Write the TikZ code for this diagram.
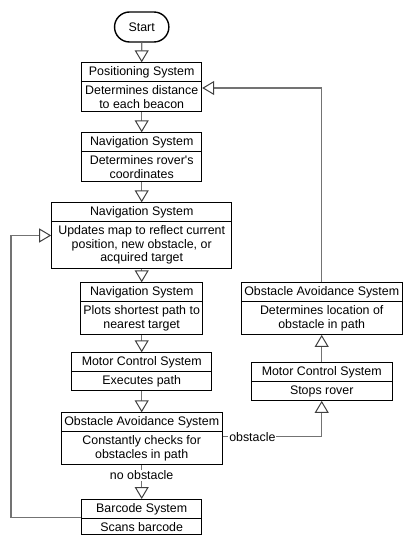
\documentclass[tikz,border=0pt]{standalone}
\usepackage{fontspec}
\setmainfont{Liberation Sans}
\usetikzlibrary{arrows.meta, shapes.multipart, shapes.misc}

\begin{document}
\begin{tikzpicture}[
    x=1pt, y=-1pt,
    font=\fontsize{12.4}{13.7}\selectfont,
    term/.style={draw,line width=1.4pt,rounded rectangle,minimum width=61pt,minimum height=30pt},
    sys/.style={draw,line width=1pt,rectangle split,rectangle split parts=2,align=center,anchor=north,inner xsep=3pt,inner ysep=3.2pt},
    flow/.style={draw=black!55,line width=1.4pt,-{Triangle[length=12pt,width=14pt,color=black!75,fill=white,line width=1pt]}},
    lbl/.style={fill=white,inner sep=1pt}]
  \useasboundingbox (0,0) rectangle (412,548);
  \node[term] (start) at (141.7,27) {Start};
  \node[sys,minimum width=120pt] (pos) at (141.7,62.3) {Positioning System \nodepart{two} Determines distance\\to each beacon};
  \node[sys,minimum width=120pt] (nav1) at (141.7,132.3) {Navigation System \nodepart{two} Determines rover\textquotesingle s\\coordinates};
  \node[sys,minimum width=180pt] (nav2) at (141.7,202.3) {Navigation System \nodepart{two} Updates map to reflect current\\position, new obstacle, or\\acquired target};
  \node[sys,minimum width=120pt] (plot) at (141.7,282.3) {Navigation System \nodepart{two} Plots shortest path to\\nearest target};
  \node[sys,minimum width=140pt] (motor) at (141.7,352.3) {Motor Control System \nodepart{two} Executes path};
  \node[sys,minimum width=160pt] (check) at (141.7,412.3) {Obstacle Avoidance System \nodepart{two} Constantly checks for\\obstacles in path};
  \node[sys,minimum width=120pt] (barcode) at (141.7,499) {Barcode System \nodepart{two} Scans barcode};
  \node[sys,minimum width=160pt] (avoid) at (321.7,282.3) {Obstacle Avoidance System \nodepart{two} Determines location of\\obstacle in path};
  \node[sys,minimum width=141pt] (stop) at (321.7,362.3) {Motor Control System \nodepart{two} Stops rover};
  % main column
  \draw[flow] (start) -- (pos);
  \draw[flow] (pos) -- (nav1);
  \draw[flow] (nav1) -- (nav2);
  \draw[flow] (nav2) -- (plot);
  \draw[flow] (plot) -- (motor);
  \draw[flow] (motor) -- (check);
  \draw[flow] (check) -- node[lbl,pos=0.3] {no obstacle} (barcode);
  % obstacle branch
  \coordinate (obs) at (321.7,436.7);
  \coordinate (fb) at (321.7,88);
  \draw[flow] (obs -| check.east) -- node[lbl,pos=0.3] {obstacle} (obs) -- (stop.south);
  \draw[flow] (stop) -- (avoid);
  \draw[flow] (avoid.north) -- (fb) -- (fb -| pos.east);
  % back to the map update
  \coordinate (loop) at (11,0);
  \draw[flow] (barcode.west) -- (barcode.west -| loop) |- (nav2.west);
\end{tikzpicture}
\end{document}
